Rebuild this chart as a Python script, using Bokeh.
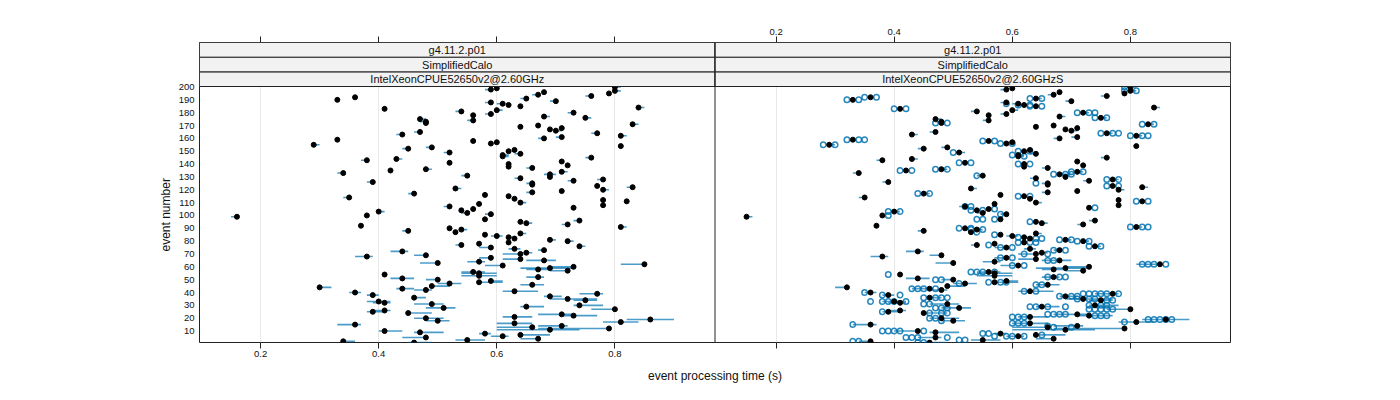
from bokeh.plotting import figure
from bokeh.models import (Range1d, FixedTicker, CustomJSTickFormatter, Span, Grid,
                          LinearAxis, Title)
from bokeh.embed import file_html
from bokeh.resources import INLINE
from bokeh.core.properties import value

NAN = float("nan")

events = list(range(1, 201))

t_left = [0.46,0.34,0.55,0.67,0.48,0.61,0.64,0.58,0.47,0.41,
 0.69,0.79,0.66,0.71,0.36,0.63,0.81,0.50,0.86,0.48,
 0.63,0.73,0.71,0.45,0.39,0.41,0.80,0.51,0.65,0.74,
 0.49,0.41,0.40,0.75,0.72,0.46,0.69,0.39,0.77,0.36,
 0.63,0.48,0.44,0.30,0.49,0.66,0.52,0.57,0.59,0.50,
 0.44,0.67,0.57,0.41,0.57,0.56,0.72,0.67,0.69,0.73,
 0.61,0.85,0.50,0.57,0.68,0.64,0.59,0.38,0.48,0.64,
 0.65,0.44,0.68,0.63,0.59,0.74,0.54,0.57,0.62,0.72,
 0.69,0.63,0.62,0.60,0.58,0.64,0.53,0.45,0.54,0.52,
 0.81,0.37,0.72,0.65,0.64,0.74,0.58,NAN,0.16,0.38,
 0.59,0.55,0.40,0.54,0.56,0.73,0.52,0.78,0.57,0.64,
 0.82,0.78,0.63,0.35,0.62,0.58,0.46,0.66,0.71,0.78,
 0.53,0.83,0.77,0.66,0.66,0.39,0.73,0.78,0.64,0.69,
 0.55,0.69,0.34,0.71,0.42,0.48,0.66,0.62,0.72,0.62,
 0.52,0.71,0.38,0.43,0.76,0.61,0.61,0.64,0.52,0.62,
 0.63,0.45,0.49,0.81,0.29,0.59,0.60,0.56,0.33,0.68,
 0.71,0.81,0.44,0.77,0.47,0.70,0.69,0.71,0.64,0.67,
 0.83,0.48,0.48,0.56,0.47,0.75,0.68,0.56,0.59,0.73,
 0.54,0.60,0.41,0.84,0.64,0.62,0.61,0.59,0.70,0.33,
 0.65,0.36,0.76,0.67,0.79,0.68,0.80,0.59,0.60,0.80]

t_right = [0.46,0.36,0.55,0.67,0.47,0.61,0.64,0.58,0.47,0.44,
 0.69,0.79,0.66,0.71,0.36,0.63,0.81,0.50,0.86,0.48,
 0.63,0.73,0.71,0.45,0.39,0.41,0.80,0.51,0.65,0.74,
 0.49,0.41,0.40,0.75,0.72,0.46,0.69,0.39,0.77,0.36,
 0.63,0.48,0.46,0.32,0.49,0.66,0.52,0.57,0.59,0.50,
 0.44,0.67,0.57,0.41,0.57,0.56,0.72,0.67,0.69,0.73,
 0.61,0.85,0.50,0.57,0.68,0.64,0.59,0.38,0.48,0.64,
 0.65,0.44,0.68,0.63,0.59,0.74,0.54,0.57,0.62,0.72,
 0.69,0.63,0.62,0.60,0.58,0.64,0.53,0.45,0.54,0.52,
 0.81,0.37,0.72,0.65,0.64,0.74,0.58,NAN,0.15,0.38,
 0.59,0.55,0.40,0.54,0.56,0.73,0.52,0.78,0.57,0.64,
 0.82,0.78,0.63,0.35,0.62,0.58,0.45,0.66,0.71,0.78,
 0.53,0.82,0.77,0.66,0.66,0.39,0.73,0.77,0.64,0.69,
 0.55,0.68,0.34,0.71,0.42,0.48,0.66,0.62,0.72,0.62,
 0.52,0.71,0.38,0.43,0.76,0.61,0.61,0.64,0.51,0.62,
 0.63,0.45,0.49,0.81,0.29,0.59,0.60,0.56,0.33,0.68,
 0.71,0.81,0.43,0.76,0.47,0.70,0.69,0.71,0.64,0.67,
 0.83,0.48,0.48,0.56,0.47,0.75,0.68,0.56,0.59,0.72,
 0.54,0.60,0.41,0.84,0.64,0.62,0.61,0.59,0.70,0.33,
 0.64,0.36,0.76,0.67,0.79,0.68,0.80,0.59,0.60,0.80]

bar_lo = [0.45,0.34,0.53,0.64,0.44,0.59,0.64,0.57,0.46,0.40,
 0.60,0.67,0.60,0.67,0.33,0.60,0.78,0.48,0.82,0.46,
 0.61,0.71,0.67,0.45,0.38,0.39,0.76,0.48,0.64,0.73,
 0.46,0.39,0.38,0.73,0.69,0.46,0.68,0.38,0.74,0.35,
 0.61,0.46,0.43,0.30,0.49,0.64,0.50,0.57,0.59,0.48,
 0.42,0.65,0.54,0.41,0.54,0.54,0.69,0.65,0.64,0.69,
 0.58,0.81,0.47,0.55,0.65,0.61,0.57,0.36,0.46,0.61,
 0.65,0.42,0.67,0.62,0.57,0.74,0.53,0.57,0.62,0.72,
 0.69,0.63,0.62,0.59,0.58,0.64,0.53,0.44,0.54,0.52,
 0.81,0.37,0.71,0.65,0.64,0.73,0.58,NAN,0.15,0.38,
 0.58,0.54,0.40,0.54,0.56,0.73,0.51,0.78,0.57,0.64,
 0.82,0.78,0.63,0.34,0.62,0.58,0.45,0.65,0.71,0.78,
 0.53,0.82,0.77,0.66,0.65,0.38,0.72,0.77,0.63,0.69,
 0.54,0.68,0.33,0.71,0.42,0.48,0.65,0.62,0.72,0.62,
 0.52,0.71,0.37,0.43,0.75,0.61,0.61,0.63,0.51,0.62,
 0.63,0.44,0.48,0.81,0.29,0.59,0.60,0.56,0.33,0.67,
 0.70,0.81,0.43,0.76,0.46,0.70,0.69,0.71,0.64,0.67,
 0.83,0.48,0.47,0.55,0.47,0.75,0.68,0.56,0.58,0.72,
 0.53,0.60,0.41,0.84,0.64,0.62,0.60,0.58,0.69,0.33,
 0.64,0.36,0.75,0.66,0.79,0.68,0.80,0.58,0.60,0.80]

bar_hi = [0.49,0.36,0.58,0.67,0.48,0.62,0.69,0.59,0.51,0.44,
 0.74,0.79,0.66,0.72,0.37,0.66,0.84,0.52,0.90,0.51,
 0.66,0.77,0.73,0.49,0.41,0.42,0.80,0.53,0.68,0.78,
 0.51,0.42,0.42,0.77,0.77,0.48,0.71,0.40,0.78,0.37,
 0.67,0.49,0.46,0.32,0.52,0.68,0.54,0.61,0.61,0.50,
 0.46,0.68,0.60,0.41,0.60,0.58,0.72,0.69,0.73,0.73,
 0.61,0.85,0.50,0.58,0.70,0.64,0.59,0.39,0.48,0.64,
 0.66,0.45,0.68,0.64,0.59,0.75,0.54,0.57,0.62,0.73,
 0.70,0.63,0.63,0.61,0.58,0.65,0.53,0.45,0.55,0.52,
 0.82,0.37,0.72,0.66,0.64,0.74,0.58,NAN,0.16,0.38,
 0.59,0.55,0.41,0.54,0.56,0.73,0.52,0.78,0.57,0.65,
 0.82,0.78,0.63,0.35,0.62,0.58,0.46,0.66,0.71,0.79,
 0.54,0.83,0.77,0.66,0.66,0.39,0.73,0.78,0.64,0.69,
 0.55,0.70,0.34,0.72,0.42,0.49,0.66,0.62,0.72,0.62,
 0.52,0.71,0.38,0.44,0.76,0.62,0.62,0.64,0.52,0.62,
 0.63,0.45,0.49,0.81,0.30,0.59,0.60,0.56,0.33,0.68,
 0.71,0.82,0.44,0.77,0.47,0.71,0.69,0.71,0.64,0.67,
 0.84,0.48,0.48,0.56,0.48,0.76,0.69,0.56,0.59,0.73,
 0.54,0.61,0.41,0.85,0.64,0.62,0.61,0.59,0.70,0.33,
 0.65,0.36,0.76,0.67,0.79,0.68,0.81,0.59,0.60,0.81]

# individual runs, shown as open circles in the right panel
circ_ev = [200,
 197,197, 192,192, 191,191, 190,190, 187, 186,186, 185,185, 183,183,
 180,180,180, 176,176, 172,172, 171,171, 164,164,164, 162,162,162,
 159,159,159, 158,158, 156,156, 155,155, 150,150, 149, 147, 146,
 141,141, 140,140, 136,136, 135,135, 134,134, 132,132,132, 131,
 128,128, 125, 123,123, 117,117, 115,115, 111,111, 107,107, 106, 105,
 104,104, 103,103, 101, 100, 97,97,97,
 95, 91,91,91, 90,90, 89,89, 87, 85, 83, 82,82, 81,81, 80,80,
 79,79,79, 77, 76,76, 75,75, 73,73, 70,70, 67,67, 65,65,
 62,62,62,62, 61,61, 56,56,56,56, 54, 52,52,52, 50,50, 48,48,48,
 47, 46,46, 43,43,43,43, 41,41, 40, 39,39,39,39,39,39, 38,38,
 37,37,37, 36,36,36,36, 35,35,35, 34,34, 33,33,33,33,33, 31,31,
 30,30,30, 29,29,29,29, 28,28,28, 27,27,27,27,27, 25, 24,24,24,
 23,23,23,23, 22,22,22, 21,21,21, 20,20, 19,19,19,19,19, 18, 17,
 16,16,16, 15, 14, 13,13, 10,10,10,10,10, 8,8, 7, 6,6,6,6,
 5,5,5,5, 3,3, 2,2, 1,1]
circ_t = [0.79,
 0.79,0.81, 0.35,0.37, 0.63,0.65, 0.32,0.34, 0.59, 0.61,0.63, 0.63,0.65, 0.40,0.42,
 0.71,0.73,0.74, 0.74,0.76, 0.47,0.49, 0.82,0.84, 0.75,0.77,0.78, 0.80,0.82,0.83,
 0.32,0.34,0.35, 0.55,0.57, 0.58,0.60, 0.28,0.30, 0.61,0.63, 0.50, 0.60, 0.62,
 0.51,0.53, 0.61,0.63, 0.47,0.49, 0.41,0.43, 0.70,0.72, 0.67,0.69,0.70, 0.54,
 0.76,0.78, 0.64, 0.76,0.78, 0.44,0.46, 0.61,0.63, 0.81,0.83, 0.52,0.53, 0.74, 0.57,
 0.53,0.55, 0.39,0.41, 0.58, 0.39, 0.54,0.55,0.57,
 0.63, 0.80,0.82,0.83, 0.51,0.53, 0.53,0.55, 0.54, 0.57, 0.61, 0.64,0.65, 0.68,0.70, 0.71,0.73,
 0.61,0.63,0.64, 0.56, 0.73,0.75, 0.58,0.60, 0.67,0.69, 0.62,0.66, 0.58,0.60, 0.66,0.67,
 0.82,0.83,0.84,0.86, 0.60,0.62, 0.53,0.54,0.55,0.57, 0.39, 0.66,0.68,0.69, 0.47,0.48, 0.56,0.58,0.59,
 0.51, 0.64,0.65, 0.43,0.44,0.45,0.47, 0.62,0.64, 0.35, 0.72,0.73,0.74,0.75,0.76,0.78, 0.38,0.41,
 0.68,0.70,0.71, 0.45,0.47,0.48,0.49, 0.71,0.73,0.74, 0.76,0.77, 0.36,0.38,0.39,0.40,0.42, 0.45,0.46,
 0.73,0.75,0.76, 0.63,0.64,0.66,0.69, 0.47,0.48,0.49, 0.73,0.74,0.75,0.76,0.77, 0.38, 0.46,0.48,0.49,
 0.66,0.67,0.68,0.69, 0.74,0.75,0.76, 0.60,0.61,0.62, 0.46,0.47, 0.83,0.84,0.85,0.86,0.87, 0.48, 0.79,
 0.60,0.61,0.62, 0.33, 0.66, 0.67,0.70, 0.38,0.39,0.40,0.41,0.45, 0.55,0.56, 0.65, 0.57,0.59,0.60,0.62,
 0.42,0.43,0.44,0.49, 0.51,0.52, 0.33,0.34, 0.44,0.45]

xticks = [0.2, 0.4, 0.6, 0.8]
yticks = list(range(10, 201, 10))
strip_rows = ["IntelXeonCPUE52650v2@2.60GHz", "SimplifiedCalo", "g4.11.2.p01"]
strip_rows_right = ["IntelXeonCPUE52650v2@2.60GHzS", "SimplifiedCalo", "g4.11.2.p01"]

BLUE = "#0072B2"
FONT = "Liberation Sans"
EDGE = "#222222"
TXT = "#111111"

# geometry
X0, X1 = 0.0966, 0.9695          # x limits of each panel
W = X1 - X0
Y0, YP = 1.08, 200.4             # y limits of the data area
PANEL_PX, STRIP_PX = 256, 44
YT = YP + (YP - Y0) * STRIP_PX / PANEL_PX   # top of the strips
SH = (YT - YP) / 3

LB, FRAME_W, FULL_W = 199, 1031, 1392
TOP, BOTTOM = 42, 45

xr = Range1d(X0, X0 + 2 * W)
xr_right = Range1d(X0 - W, X1)
right_ticks = [v + W for v in xticks]

p = figure(width=FULL_W, height=TOP + PANEL_PX + STRIP_PX + BOTTOM, x_range=xr,
           y_range=Range1d(Y0, YT), output_backend="svg", toolbar_location=None,
           min_border_left=LB, min_border_right=FULL_W - LB - FRAME_W,
           min_border_top=TOP, min_border_bottom=BOTTOM)
p.extra_x_ranges = {"right": xr_right}
p.outline_line_color = EDGE
p.ygrid.visible = False
p.xgrid.ticker = FixedTicker(ticks=xticks)
p.xgrid.grid_line_color = "#e8e8e8"
p.add_layout(Grid(dimension=0, ticker=FixedTicker(ticks=xticks), x_range_name="right",
                  grid_line_color="#e8e8e8"))


def style_x(a):
    a.major_tick_out = 6
    a.major_tick_in = 0
    a.minor_tick_line_color = None
    a.axis_line_color = None
    a.major_tick_line_color = EDGE
    a.major_label_standoff = 2
    a.major_label_text_font = FONT
    a.major_label_text_font_size = "9.5px"
    a.major_label_text_color = TXT


xa = p.xaxis[0]
xa.ticker = FixedTicker(ticks=xticks + right_ticks)
xa.formatter = CustomJSTickFormatter(args=dict(lim=X1),
                                     code="return tick < lim ? tick.toFixed(1) : '';")
style_x(xa)
xa.axis_label = "event processing time (s)"
xa.axis_label_standoff = 9
xa.axis_label_text_font = FONT
xa.axis_label_text_font_size = "12px"
xa.axis_label_text_font_style = "normal"
xa.axis_label_text_color = TXT

top = LinearAxis(ticker=FixedTicker(ticks=xticks + right_ticks),
                 formatter=CustomJSTickFormatter(args=dict(lim=X1, w=W),
                                                 code="return tick > lim ? (tick - w).toFixed(1) : '';"))
style_x(top)
p.add_layout(top, "above")

ya = p.yaxis[0]
ya.ticker = FixedTicker(ticks=yticks)
ya.major_tick_out = 0
ya.major_tick_in = 0
ya.major_tick_line_color = None
ya.minor_tick_line_color = None
ya.axis_line_color = None
ya.major_label_standoff = 5
ya.major_label_text_font = FONT
ya.major_label_text_font_size = "9.5px"
ya.major_label_text_color = TXT

# y title, centred on the data area (below the strips)
p.add_layout(Title(text="event number", align="left", offset=91, standoff=6,
                   text_font=FONT, text_font_size="12px", text_font_style="normal",
                   text_color=TXT), "left")

# left panel
p.segment(x0=bar_lo, x1=bar_hi, y0=events, y1=events, line_color=BLUE, line_width=1.6,
          line_alpha=0.7, line_cap="butt")
p.scatter(x=t_left, y=events, size=5, marker="circle", fill_color="black", line_color="black")

# right panel
p.segment(x0=bar_lo, x1=bar_hi, y0=events, y1=events, line_color=BLUE, line_width=1.6,
          line_alpha=0.7, line_cap="butt", x_range_name="right")
p.scatter(x=circ_t, y=circ_ev, size=5.5, marker="circle", fill_color=None, line_color=BLUE,
          line_width=1.5, line_alpha=0.85, x_range_name="right")
p.scatter(x=t_right, y=events, size=5, marker="circle", fill_color="black", line_color="black",
          x_range_name="right")

# strips (drawn last so that they cover marks at the top edge)
for j, (a, b) in enumerate(zip(strip_rows, strip_rows_right)):
    for rng, txt in (("default", a), ("right", b)):
        p.quad(left=[X0], right=[X1], bottom=[YP + j * SH], top=[YP + (j + 1) * SH],
               fill_color="#f2f2f2", line_color=EDGE, line_width=1, x_range_name=rng)
        p.text(x=[(X0 + X1) / 2], y=[YP + (j + 0.5) * SH], text=[txt], text_align="center",
               text_baseline="middle", text_font=value(FONT), text_font_size="11px",
               text_color=TXT, x_range_name=rng)

p.add_layout(Span(location=X1, dimension="height", line_color=EDGE, line_width=1))

open("out.html", "w").write(file_html(p, INLINE))
